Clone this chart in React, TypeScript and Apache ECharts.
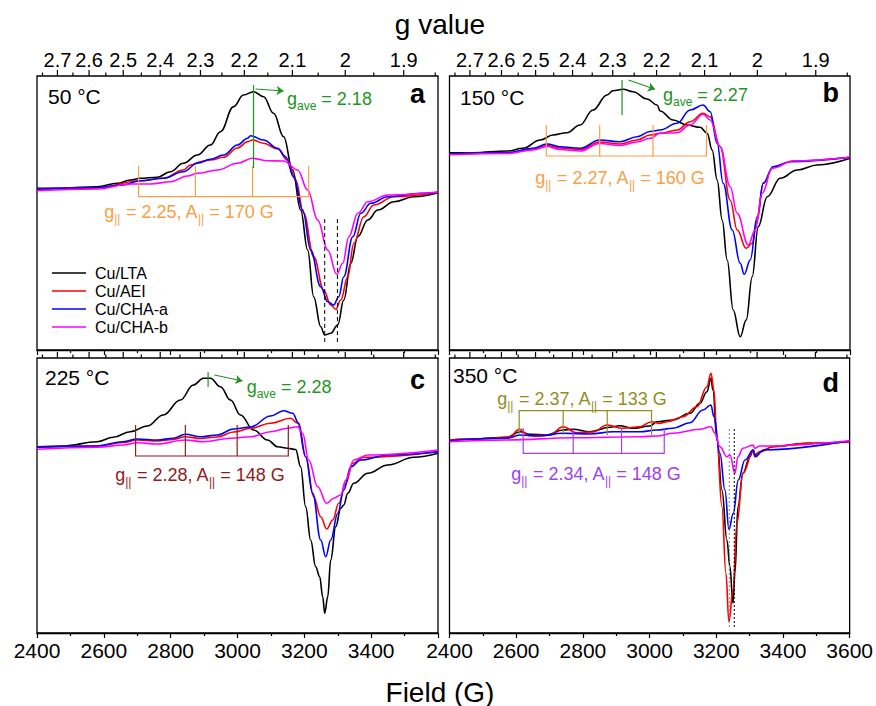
import React, { useEffect, useRef } from "react";
import * as echarts from "echarts";

const FONT = '"Liberation Sans", Arial, Helvetica, sans-serif';

const seriesNames = ["Cu/LTA", "Cu/AEI", "Cu/CHA-a", "Cu/CHA-b"];
const seriesColors = ["#000000", "#ff0000", "#0000ff", "#ff00ff"];

// top axis: g value = G_TIMES_FIELD / field
const G_TIMES_FIELD = 6645;
const gMajorTicks = [2.7, 2.6, 2.5, 2.4, 2.3, 2.2, 2.1, 2.0, 1.9];
const gMajorLabels = ["2.7", "2.6", "2.5", "2.4", "2.3", "2.2", "2.1", "2", "1.9"];
const gMinorTicks = [2.75, 2.65, 2.55, 2.45, 2.35, 2.25, 2.15, 2.05, 1.95, 1.85];

const panelTemps = ["50 \u00b0C", "150 \u00b0C", "225 \u00b0C", "350 \u00b0C"];
const panelLetters = ["a", "b", "c", "d"];
const panelYMin = [-160, -195, -185, -193];
const panelYMax = [114, 79, 90, 82];

// ---------- panel a : 50 °C ----------
const a_LTA = [[2400,1.7],[2478,2],[2580,3.3],[2640,6.7],[2679,10],[2709,11.7],[2760,12.7],[2799,18.3],[2838,26.7],[2880,35],[2919,45],[2949,58.3],[2988,83.3],[3018,95],[3048,98.3],[3078,93.3],[3108,76.7],[3138,53.3],[3165,20],[3189,-20],[3210,-60],[3228,-106.7],[3249,-136.7],[3261,-145],[3279,-143.3],[3300,-135],[3318,-110],[3339,-73.3],[3360,-46.7],[3390,-30],[3420,-20],[3468,-11.7],[3528,-6.7],[3600,-2.7]];
const a_AEI = [[2400,1],[2580,2.3],[2709,9.3],[2778,11.7],[2838,20],[2859,25],[2889,28.3],[2919,30],[2958,32.7],[3000,42],[3030,48.3],[3045,50],[3078,46.7],[3120,41],[3150,30],[3174,10],[3198,-23.3],[3228,-66.7],[3258,-100],[3279,-115],[3294,-119.3],[3309,-110],[3330,-86.7],[3348,-53.3],[3378,-26.7],[3408,-15],[3468,-6.7],[3600,-2.3]];
const a_CHAa = [[2400,0.7],[2580,2.3],[2658,5],[2709,9.3],[2778,11.7],[2838,18.3],[2880,26.7],[2919,30.7],[2958,35],[3000,45],[3030,51.7],[3039,54.3],[3078,50],[3120,41.7],[3144,33.3],[3168,13.3],[3195,-20],[3219,-60],[3249,-96.7],[3270,-111.7],[3288,-115],[3303,-106.7],[3318,-86.7],[3345,-46.7],[3369,-23.3],[3399,-13.3],[3450,-6.7],[3549,-3.3],[3600,-2.3]];
const a_CHAb = [[2400,-0.7],[2580,1],[2679,6],[2739,6],[2799,8.3],[2850,14],[2880,16.7],[2940,20],[3000,26.7],[3045,31.7],[3090,29.3],[3138,29],[3180,20],[3210,0],[3240,-30],[3270,-60],[3297,-84.3],[3315,-73.3],[3333,-46.7],[3360,-23.3],[3390,-11.7],[3450,-5],[3600,-2]];
const a_gParField = [2704, 2874, 3045, 3213];
const a_gParLevels = [-6.7, 24];
const a_gAveField = 3048;
const a_gAveLevels = [105, 22];
const a_arrow = [[3054, 101], [3138, 99]];
const a_dashedField = [3261, 3299];
const a_dashedLevels = [-29, -155];

// ---------- panel b : 150 °C ----------
const b_LTA = [[2400,2.3],[2470,2.3],[2573,4],[2620,6.7],[2672,15],[2710,20],[2752,22.3],[2791,30],[2830,45],[2872,60],[2890,64.3],[2920,65.7],[2950,63.3],[2992,56],[3022,50],[3031,44],[3070,35],[3112,30],[3151,27.7],[3172,21.7],[3187,5],[3202,-25],[3217,-65],[3232,-105],[3250,-155],[3271,-181.7],[3289,-165],[3307,-121.7],[3325,-71.7],[3352,-41.7],[3391,-23.3],[3442,-15],[3502,-10],[3600,-3.3]];
const b_AEI = [[2400,1],[2573,2],[2650,6],[2692,9.5],[2731,7],[2791,5.5],[2850,13],[2911,11],[2962,15],[3001,20],[3031,21.7],[3082,25],[3121,33.3],[3160,41.7],[3181,38.3],[3211,8.3],[3241,-45],[3262,-75],[3289,-93.3],[3307,-88.3],[3322,-65],[3340,-28.3],[3370,-11.7],[3430,-6],[3600,-2.3]];
const b_CHAa = [[2400,1],[2573,2.3],[2650,6.7],[2692,11],[2731,8.3],[2791,6.7],[2850,15],[2911,13.3],[2962,18.3],[3001,23.5],[3031,25],[3082,31.7],[3121,45],[3160,50],[3181,43.3],[3202,11.7],[3220,-28.3],[3247,-75],[3271,-108.3],[3283,-119.3],[3301,-105],[3322,-61.7],[3340,-28.3],[3370,-11.7],[3421,-6.7],[3600,-2.3]];
const b_CHAb = [[2400,0.3],[2573,1.5],[2650,5],[2692,8.5],[2731,5.5],[2791,4],[2850,11.5],[2911,9.5],[2962,13],[3001,16.7],[3031,21.7],[3082,22.3],[3121,30],[3160,40.7],[3181,35],[3211,8.3],[3241,-31.7],[3262,-58.3],[3295,-90],[3316,-75],[3337,-38.3],[3367,-13.3],[3430,-6],[3600,-2.3]];
const b_gParField = [2690, 2850, 3010, 3170];
const b_gParLevels = [-1, 30];
const b_gAveField = 2917;
const b_gAveLevels = [75, 40];
const b_arrow = [[2936, 75], [3016, 65.7]];

// ---------- panel c : 225 °C ----------
const c_LTA = [[2400,1.3],[2478,2],[2580,6.3],[2628,10.7],[2679,16.3],[2730,22],[2778,33],[2829,48],[2868,63],[2898,69.7],[2919,69.7],[2949,61.3],[2979,48],[3009,33],[3048,18],[3090,8],[3120,1.3],[3150,-0.3],[3174,-1.5],[3189,-18.7],[3204,-58.7],[3219,-92],[3234,-118.7],[3246,-128.7],[3255,-148.7],[3261,-165.3],[3270,-148.7],[3279,-112],[3294,-78.7],[3309,-60.3],[3318,-57],[3330,-45.3],[3348,-35.3],[3390,-25.3],[3450,-17],[3528,-9.3],[3600,-5.3]];
const c_AEI = [[2400,0.7],[2580,2],[2658,5.5],[2700,8],[2760,7],[2808,8.5],[2844,11.3],[2889,9.5],[2940,11],[2988,16],[3039,19.7],[3099,24.7],[3159,29.7],[3180,24.7],[3204,-8.7],[3228,-48.7],[3249,-68.7],[3267,-81],[3285,-72],[3303,-55.3],[3324,-35.3],[3345,-15.3],[3378,-9.3],[3600,-3.7]];
const c_CHAa = [[2400,0.7],[2580,2],[2658,6.3],[2700,9],[2760,8],[2808,9.7],[2844,13.7],[2889,11.3],[2940,13],[2988,19],[3039,21],[3099,32],[3138,37.3],[3165,34.7],[3183,24.7],[3204,-8.7],[3225,-45.3],[3249,-92],[3264,-108.7],[3279,-92],[3300,-65.3],[3318,-42],[3339,-18.7],[3369,-12],[3450,-7],[3600,-3.7]];
const c_CHAb = [[2400,-1.3],[2580,0.7],[2658,3],[2700,5.3],[2760,4],[2844,8],[2898,6.3],[2979,9.7],[3039,11.3],[3099,16.3],[3150,19.7],[3180,21.3],[3195,14.7],[3213,-12],[3240,-38.7],[3267,-55.3],[3288,-50.3],[3309,-47],[3324,-32],[3348,-12],[3390,-7],[3600,-2]];
const c_gParField = [2695, 2844, 2999, 3152];
const c_gParLevels = [-8, 23];
const c_gAveField = 2912;
const c_gAveLevels = [76, 61];
const c_arrow = [[2931, 73], [3015, 67]];

// ---------- panel d : 350 °C ----------
const d_LTA = [[2400,0],[2470,1],[2572,2.7],[2611,8.3],[2641,5.7],[2692,5],[2740,10],[2770,10.7],[2821,8.3],[2881,12.7],[2911,14.3],[2950,11.7],[3001,14],[3022,18.3],[3070,20],[3121,26.7],[3151,36.7],[3172,48.3],[3184,61.7],[3190,50],[3202,0],[3217,-50],[3232,-100],[3241,-126.7],[3250,-163.3],[3256,-133.3],[3265,-66.7],[3280,-33.3],[3301,-16.7],[3310,-10],[3316,-15],[3331,-11.7],[3370,-6.7],[3472,-3.3],[3600,-1.7]];
const d_AEI = [[2400,0],[2520,1.5],[2580,3],[2609,10.7],[2640,4.3],[2700,5],[2741,13.3],[2780,7.3],[2830,8],[2873,15],[2920,11.7],[2971,13.3],[3006,18.3],[3030,16.5],[3052,18.3],[3100,23.3],[3142,33.3],[3172,53.3],[3184,66.7],[3193,50],[3202,0],[3217,-66.7],[3229,-133.3],[3238,-181.7],[3250,-150],[3262,-83.3],[3280,-33.3],[3310,-11.7],[3316,-16.7],[3331,-11.7],[3370,-6.5],[3470,-3.3],[3600,-1.7]];
const d_CHAa = [[2400,-0.7],[2572,1.7],[2611,5],[2670,4],[2740,6.7],[2821,6],[2890,8.3],[2971,8.3],[3022,10],[3070,11.7],[3121,17.3],[3160,30],[3184,35],[3193,23.3],[3211,-13.3],[3226,-50],[3238,-89.3],[3251,-73.3],[3266,-40],[3286,-20],[3311,-10],[3318,-16.7],[3341,-10],[3600,-0.7]];
const d_CHAb = [[2400,-1.7],[2572,0],[2770,2.3],[2971,3.3],[3022,4],[3070,6.7],[3151,10.7],[3184,13.3],[3196,6.7],[3211,-6.7],[3232,-16.7],[3241,-15],[3256,-33.3],[3265,-16.7],[3280,-8.3],[3310,-5],[3316,-8.3],[3331,-6],[3600,-0.7]];
const d_gParOliveField = [2609, 2741, 2873, 3006];
const d_gParOliveLevels = [29.3, 5];
const d_gParPurpleField = [2621, 2771, 2916, 3044];
const d_gParPurpleLevels = [-13.3, 12];
const d_dottedField = [3239, 3254];
const d_dottedLevels = [11, -188];

const ORANGE = "#f7a045";
const GREEN = "#1f951f";
const DARKRED = "#8e1c1c";
const OLIVE = "#8f8f1f";
const PURPLE = "#a040f0";

const grids = [
  { left: 37, top: 76, width: 401, height: 274 },
  { left: 449.5, top: 76, width: 400.5, height: 274 },
  { left: 37, top: 358, width: 401, height: 275 },
  { left: 449.5, top: 358, width: 400.5, height: 275 },
];

function curveSeries(panel: number, curves: number[][][]) {
  return curves.map((data, k) => ({
    type: "line",
    name: seriesNames[k],
    xAxisIndex: panel,
    yAxisIndex: panel,
    data,
    symbol: "none",
    showSymbol: false,
    smooth: 0.4,
    smoothMonotone: "x",
    silent: true,
    lineStyle: { color: seriesColors[k], width: 1.6 },
    itemStyle: { color: seriesColors[k] },
    z: 3 + k,
  }));
}

function bracket(fields: number[], levels: number[]) {
  const [base, tip] = levels;
  return [
    { coords: [[fields[0], tip], [fields[0], base], [fields[3], base], [fields[3], tip]] },
    { coords: [[fields[1], base], [fields[1], tip]] },
    { coords: [[fields[2], base], [fields[2], tip]] },
  ];
}

function linesSeries(panel: number, data: any[], color: string, extra: any = {}) {
  return {
    type: "lines",
    coordinateSystem: "cartesian2d",
    xAxisIndex: panel,
    yAxisIndex: panel,
    polyline: true,
    silent: true,
    data,
    lineStyle: { color, width: 1.2, opacity: 1, ...(extra.lineStyle || {}) },
    z: 10,
  };
}

function arrowSeries(panel: number, pts: number[][], color: string) {
  return {
    type: "lines",
    coordinateSystem: "cartesian2d",
    xAxisIndex: panel,
    yAxisIndex: panel,
    silent: true,
    symbol: ["none", "arrow"],
    symbolSize: 7,
    data: [{ coords: pts }],
    lineStyle: { color, width: 1.2, opacity: 1 },
    z: 10,
  };
}

function topTickSeries(panel: number, withLabels: boolean) {
  const ticks = [
    ...gMajorTicks.map((g, i) => ({ g, label: gMajorLabels[i], major: true })),
    ...gMinorTicks.map((g) => ({ g, label: "", major: false })),
  ];
  return {
    type: "custom",
    xAxisIndex: panel,
    yAxisIndex: panel,
    silent: true,
    clip: false,
    data: ticks.map((t) => [G_TIMES_FIELD / t.g, panelYMax[panel]]),
    renderItem: (params: any, api: any) => {
      const t = ticks[params.dataIndex];
      const p = api.coord([api.value(0), api.value(1)]);
      const len = t.major ? 6 : 3.5;
      const children: any[] = [
        {
          type: "line",
          shape: { x1: p[0], y1: p[1], x2: p[0], y2: p[1] - len },
          style: { stroke: "#000", lineWidth: 1.2 },
        },
      ];
      if (withLabels && t.major) {
        children.push({
          type: "text",
          x: p[0],
          y: p[1] - 16,
          style: {
            text: t.label,
            align: "center",
            verticalAlign: "middle",
            font: '20px "Liberation Sans", Arial, sans-serif',
            fontSize: 20,
            fontFamily: FONT,
            fill: "#000",
          },
        });
      }
      return { type: "group", children };
    },
  };
}

function richStyles(color: string) {
  return {
    n: { fontSize: 18, lineHeight: 18, fill: color, fontFamily: FONT, verticalAlign: "top" },
    s: { fontSize: 12, lineHeight: 12, fill: color, fontFamily: FONT, verticalAlign: "top", padding: [10, 0, 0, 0] },
  };
}

function annText(x: number, y: number, text: string, color: string, align: string) {
  return {
    type: "text",
    x,
    y,
    silent: true,
    style: { text, rich: richStyles(color), align, verticalAlign: "middle", fill: color, fontFamily: FONT, fontSize: 18 },
  };
}

function plainText(x: number, y: number, text: string, size: number, align: string, bold = false) {
  return {
    type: "text",
    x,
    y,
    silent: true,
    style: { text, fontSize: size, fontFamily: FONT, fontWeight: bold ? "bold" : "normal", fill: "#000", align, verticalAlign: "middle" },
  };
}

export default function App() {
  const ref = useRef<HTMLDivElement>(null);
  useEffect(() => {
    if (!ref.current) return;
    const chart = echarts.init(ref.current, undefined, { renderer: "svg" });

    const xAxes = grids.map((_, i) => ({
      gridIndex: i,
      type: "value",
      min: 2400,
      max: 3600,
      interval: 200,
      axisLine: { show: true, onZero: false, lineStyle: { color: "#000", width: 1.3 } },
      axisTick: { show: true, inside: false, length: 5, lineStyle: { color: "#000", width: 1.2 } },
      minorTick: { show: true, splitNumber: 2, length: 3, lineStyle: { color: "#000", width: 1.2 } },
      splitLine: { show: false },
      axisLabel: {
        show: i >= 2,
        fontSize: 21,
        color: "#000",
        fontFamily: FONT,
        margin: 7,
        showMaxLabel: i === 3,
        showMinLabel: true,
        formatter: (v: number) => String(v),
      },
    }));
    const yAxes = grids.map((_, i) => ({
      gridIndex: i,
      type: "value",
      min: panelYMin[i],
      max: panelYMax[i],
      show: false,
    }));

    const series: any[] = [
      ...curveSeries(0, [a_LTA, a_AEI, a_CHAa, a_CHAb]),
      ...curveSeries(1, [b_LTA, b_AEI, b_CHAa, b_CHAb]),
      ...curveSeries(2, [c_LTA, c_AEI, c_CHAa, c_CHAb]),
      ...curveSeries(3, [d_LTA, d_AEI, d_CHAa, d_CHAb]),
      topTickSeries(0, true),
      topTickSeries(1, true),
      topTickSeries(2, false),
      topTickSeries(3, false),
      // panel a annotations
      linesSeries(0, bracket(a_gParField, a_gParLevels), ORANGE),
      linesSeries(0, [{ coords: [[a_gAveField, a_gAveLevels[0]], [a_gAveField, a_gAveLevels[1]]] }], GREEN),
      arrowSeries(0, a_arrow, GREEN),
      linesSeries(
        0,
        a_dashedField.map((f) => ({ coords: [[f, a_dashedLevels[0]], [f, a_dashedLevels[1]]] })),
        "#000",
        { lineStyle: { type: [4, 3], width: 1 } }
      ),
      // panel b
      linesSeries(1, bracket(b_gParField, b_gParLevels), ORANGE),
      linesSeries(1, [{ coords: [[b_gAveField, b_gAveLevels[0]], [b_gAveField, b_gAveLevels[1]]] }], GREEN),
      arrowSeries(1, b_arrow, GREEN),
      // panel c
      linesSeries(2, bracket(c_gParField, c_gParLevels), DARKRED),
      linesSeries(2, [{ coords: [[c_gAveField, c_gAveLevels[0]], [c_gAveField, c_gAveLevels[1]]] }], GREEN),
      arrowSeries(2, c_arrow, GREEN),
      // panel d
      linesSeries(3, bracket(d_gParOliveField, d_gParOliveLevels), OLIVE),
      linesSeries(3, bracket(d_gParPurpleField, d_gParPurpleLevels), PURPLE),
      linesSeries(
        3,
        [{ coords: [[d_dottedField[0], d_dottedLevels[0]], [d_dottedField[0], d_dottedLevels[1]]] }],
        "#888",
        { lineStyle: { type: [2, 2], width: 1 } }
      ),
      linesSeries(
        3,
        [{ coords: [[d_dottedField[1], d_dottedLevels[0]], [d_dottedField[1], d_dottedLevels[1]]] }],
        "#000",
        { lineStyle: { type: [2, 2], width: 1 } }
      ),
    ];

    const graphics: any[] = [
      plainText(440, 24, "g value", 28, "center"),
      plainText(440, 692, "Field (G)", 28, "center"),
      plainText(48, 96, panelTemps[0], 21, "left"),
      plainText(460, 97.5, panelTemps[1], 21, "left"),
      plainText(45, 377.5, panelTemps[2], 21, "left"),
      plainText(453, 375.5, panelTemps[3], 21, "left"),
      plainText(425, 94, panelLetters[0], 27, "right", true),
      plainText(839, 92.5, panelLetters[1], 27, "right", true),
      plainText(425, 380, panelLetters[2], 27, "right", true),
      plainText(839, 382.5, panelLetters[3], 27, "right", true),
      annText(287, 98.5, "{n|g}{s|ave}{n| = 2.18}", GREEN, "left"),
      annText(189, 211.8, "{n|g}{s|||}{n| = 2.25, A}{s|||}{n| = 170 G}", ORANGE, "center"),
      annText(663, 95, "{n|g}{s|ave}{n| = 2.27}", GREEN, "left"),
      annText(620, 177.5, "{n|g}{s|||}{n| = 2.27, A}{s|||}{n| = 160 G}", ORANGE, "center"),
      annText(246.7, 386.8, "{n|g}{s|ave}{n| = 2.28}", GREEN, "left"),
      annText(200, 475.1, "{n|g}{s|||}{n| = 2.28, A}{s|||}{n| = 148 G}", DARKRED, "center"),
      annText(582, 398.5, "{n|g}{s|||}{n| = 2.37, A}{s|||}{n| = 133 G}", OLIVE, "center"),
      annText(596, 473.5, "{n|g}{s|||}{n| = 2.34, A}{s|||}{n| = 148 G}", PURPLE, "center"),
    ];

    chart.setOption({
      animation: false,
      backgroundColor: "#ffffff",
      textStyle: { fontFamily: FONT },
      grid: grids.map((g) => ({ ...g, show: true, borderColor: "#000", borderWidth: 1.3, containLabel: false })),
      xAxis: xAxes,
      yAxis: yAxes,
      legend: {
        data: seriesNames,
        orient: "vertical",
        left: 47,
        top: 260,
        icon: "rect",
        itemWidth: 34,
        itemHeight: 1.5,
        itemGap: 2,
        selectedMode: false,
        textStyle: { fontSize: 16, color: "#000", fontFamily: FONT, padding: [0, 0, 0, 4] },
      },
      series,
      graphic: graphics,
    });
    return () => chart.dispose();
  }, []);
  return <div ref={ref} style={{ position: "absolute", left: 0, top: 0, width: 876, height: 706 }} />;
}
